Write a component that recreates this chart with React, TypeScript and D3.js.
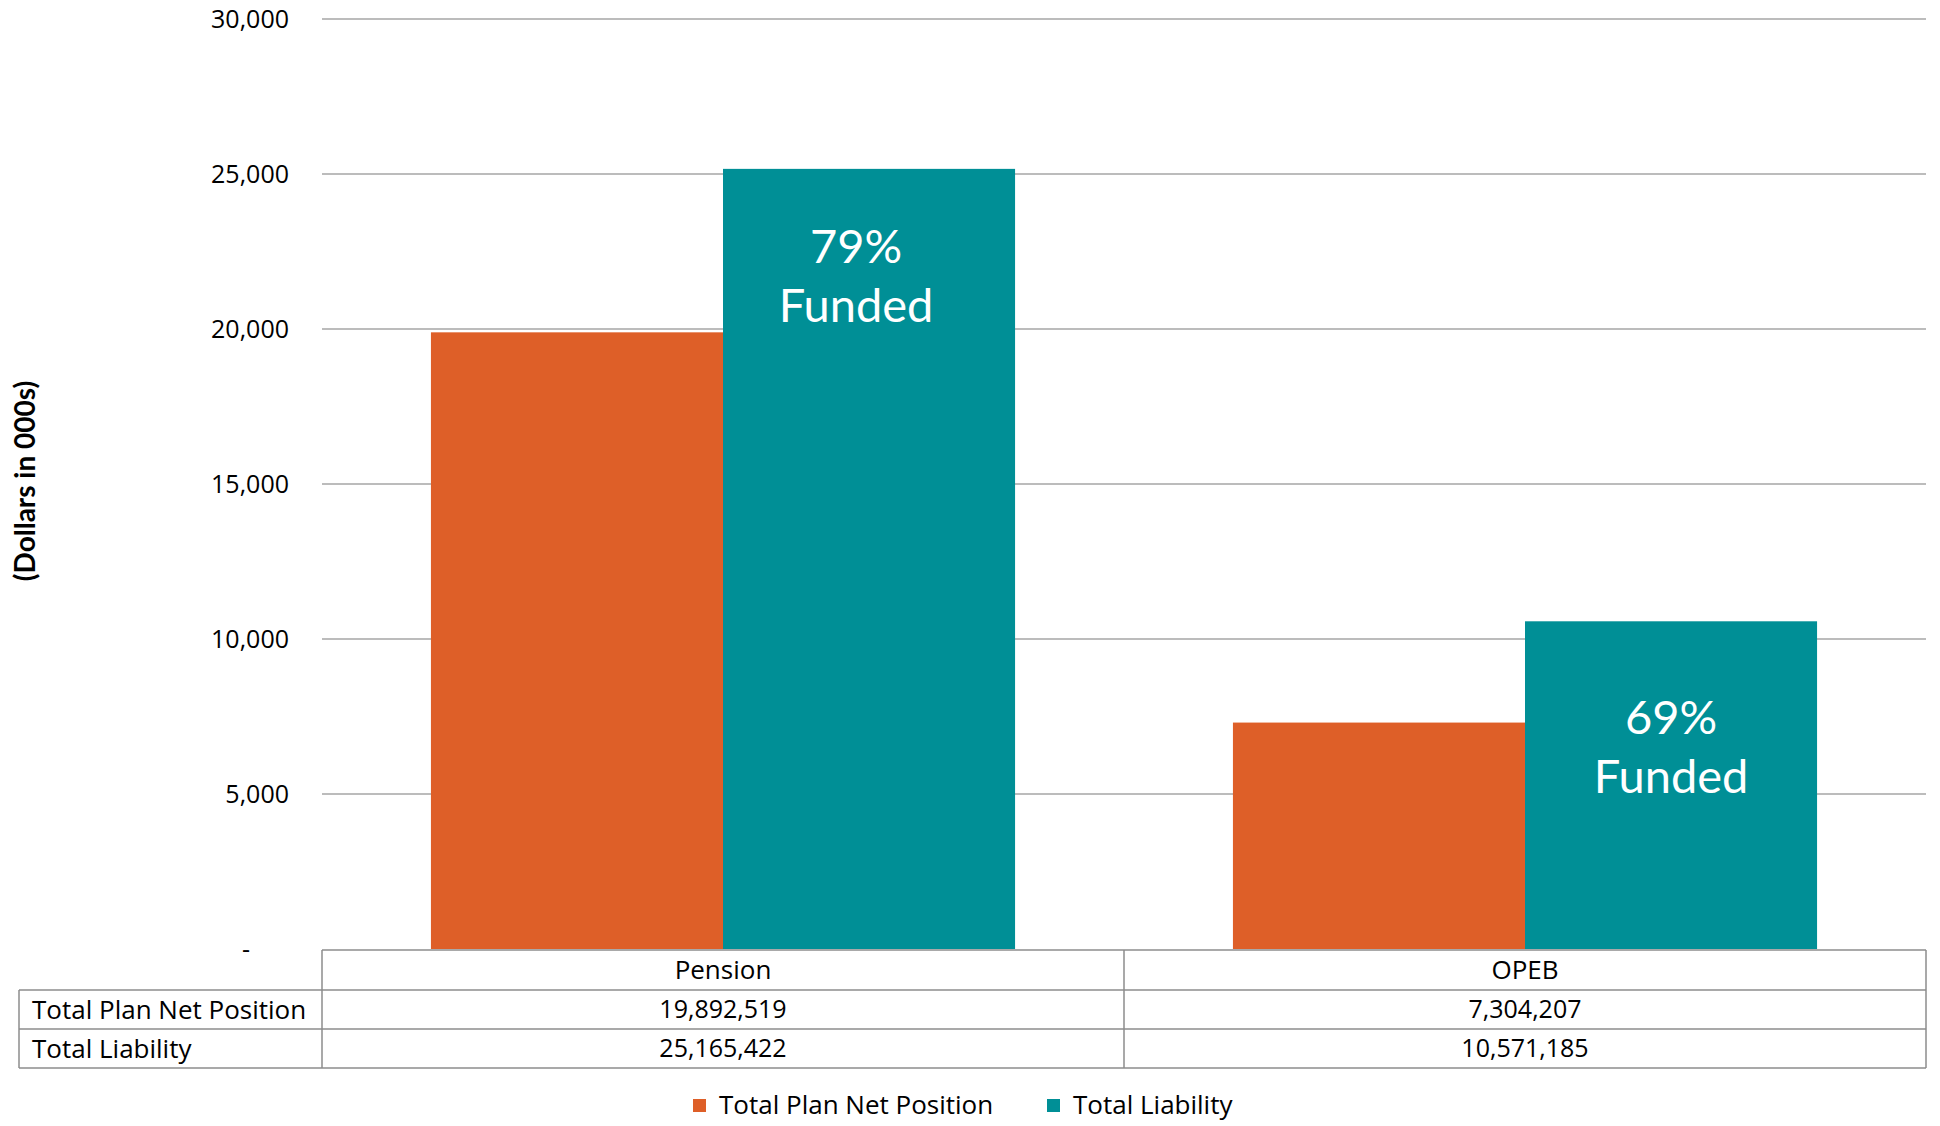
import { useEffect, useRef } from "react";
import * as d3 from "d3";

// data (Dollars in 000s)
const categories = ["Pension", "OPEB"];
const seriesNames = ["Total Plan Net Position", "Total Liability"];
const netPosition = [19892.519, 7304.207];
const totalLiability = [25165.422, 10571.185];
const tableNetPosition = ["19,892,519", "7,304,207"];
const tableLiability = ["25,165,422", "10,571,185"];
const yTicks = [0, 5000, 10000, 15000, 20000, 25000, 30000];

const W = 1940;
const H = 1126;
const COLORS = ["#DE5F28", "#008F96"];
const LABEL_FONT = "Lato, 'Open Sans', sans-serif";
const FONT = "'Open Sans', Lato, sans-serif";

export default function App() {
  const svgRef = useRef<SVGSVGElement>(null);

  useEffect(() => {
    if (!svgRef.current) return;
    const svg = d3.select(svgRef.current);
    svg.selectAll("*").remove();

    const left = 322;
    const right = 1926;
    const x = d3.scaleBand<string>().domain(categories).range([left, right]).padding(0);
    const xs = d3
      .scaleBand<string>()
      .domain(seriesNames)
      .range([0, x.bandwidth()])
      .paddingInner(0)
      .paddingOuter(0.373);
    const y = d3.scaleLinear().domain([0, 30000]).range([949, 19]);

    // gridlines
    svg
      .append("g")
      .selectAll("line")
      .data(yTicks.filter((t) => t > 0))
      .enter()
      .append("line")
      .attr("x1", left)
      .attr("x2", right)
      .attr("y1", (d) => y(d))
      .attr("y2", (d) => y(d))
      .attr("stroke", "#a6a6a6")
      .attr("stroke-width", 1.5);

    // tick labels
    svg
      .append("g")
      .selectAll("text")
      .data(yTicks)
      .enter()
      .append("text")
      .attr("x", (d) => (d === 0 ? 250 : 289))
      .attr("y", (d) => y(d))
      .attr("dy", "0.35em")
      .attr("text-anchor", "end")
      .attr("font-family", FONT)
      .attr("font-size", 25)
      .attr("fill", "#000")
      .text((d) => (d === 0 ? "-" : d3.format(",")(d)));

    // y axis title
    svg
      .append("text")
      .attr("transform", "translate(25,481) rotate(-90)")
      .attr("text-anchor", "middle")
      .attr("dy", "0.35em")
      .attr("font-family", LABEL_FONT)
      .attr("font-weight", 700)
      .attr("font-size", 28)
      .text("(Dollars in 000s)");

    // bars
    const rows = categories.map((c, i) => ({ cat: c, values: [netPosition[i], totalLiability[i]] }));
    const groups = svg
      .append("g")
      .selectAll("g")
      .data(rows)
      .enter()
      .append("g")
      .attr("transform", (d) => `translate(${x(d.cat)},0)`);

    groups
      .selectAll("rect")
      .data((d) => d.values.map((v, j) => ({ key: seriesNames[j], v, j })))
      .enter()
      .append("rect")
      .attr("x", (d) => xs(d.key)!)
      .attr("width", xs.bandwidth())
      .attr("y", (d) => y(d.v))
      .attr("height", (d) => y(0) - y(d.v))
      .attr("fill", (d) => COLORS[d.j]);

    // funded labels inside liability bars
    const labelDx = [-13, 0];
    const labelDy = [94, 113];
    groups.each(function (d, i) {
      const cx = xs(seriesNames[1])! + xs.bandwidth() / 2 + labelDx[i];
      const top = y(d.values[1]) + labelDy[i];
      const t = d3
        .select(this)
        .append("text")
        .attr("text-anchor", "middle")
        .attr("font-family", LABEL_FONT)
        .attr("font-size", 47)
        .attr("fill", "#fff");
      t.append("tspan").attr("x", cx).attr("y", top).text(d3.format(".0%")(d.values[0] / d.values[1]));
      t.append("tspan").attr("x", cx).attr("y", top + 59).text("Funded");
    });

    // data table
    const tTop = 950;
    const rowH = [40, 39, 39];
    const r1 = tTop + rowH[0];
    const r2 = r1 + rowH[1];
    const r3 = r2 + rowH[2];
    const tLeft = 19;
    const lineColor = "#8c8c8c";
    const table = svg.append("g").attr("stroke", lineColor).attr("stroke-width", 1.5);
    const hLines = [
      [left, right, tTop],
      [tLeft, right, r1],
      [tLeft, right, r2],
      [tLeft, right, r3],
    ];
    hLines.forEach(([a, b, yy]) => table.append("line").attr("x1", a).attr("x2", b).attr("y1", yy).attr("y2", yy));
    const vLines = [
      [tLeft, r1],
      [left, tTop],
      [x("OPEB")!, tTop],
      [right, tTop],
    ];
    vLines.forEach(([xx, y0]) => table.append("line").attr("x1", xx).attr("x2", xx).attr("y1", y0).attr("y2", r3));

    const cellText = svg.append("g").attr("font-family", FONT).attr("font-size", 25).attr("fill", "#000");
    categories.forEach((c, i) => {
      const cx = x(c)! + x.bandwidth() / 2;
      cellText.append("text").attr("x", cx).attr("y", (tTop + r1) / 2).attr("dy", "0.35em").attr("text-anchor", "middle").attr("font-size", 26).text(c);
      cellText.append("text").attr("x", cx).attr("y", (r1 + r2) / 2).attr("dy", "0.35em").attr("text-anchor", "middle").text(tableNetPosition[i]);
      cellText.append("text").attr("x", cx).attr("y", (r2 + r3) / 2).attr("dy", "0.35em").attr("text-anchor", "middle").text(tableLiability[i]);
    });
    cellText.append("text").attr("x", 32).attr("y", (r1 + r2) / 2).attr("dy", "0.35em").attr("font-size", 26).text(seriesNames[0]);
    cellText.append("text").attr("x", 32).attr("y", (r2 + r3) / 2).attr("dy", "0.35em").attr("font-size", 26).text(seriesNames[1]);

    // legend
    const legendX = [693, 1047];
    const legend = svg
      .append("g")
      .selectAll("g")
      .data(seriesNames)
      .enter()
      .append("g")
      .attr("transform", (_d, i) => `translate(${legendX[i]},1105)`);
    legend
      .append("rect")
      .attr("x", 0)
      .attr("y", -6)
      .attr("width", 13)
      .attr("height", 13)
      .attr("fill", (_d, i) => COLORS[i]);
    legend
      .append("text")
      .attr("x", 26)
      .attr("y", 0)
      .attr("dy", "0.35em")
      .attr("font-family", FONT)
      .attr("font-size", 26)
      .text((d) => d);
  }, []);

  return (
    <div style={{ position: "absolute", left: 0, top: 0, width: W, height: H, background: "#fff" }}>
      <svg ref={svgRef} width={W} height={H} style={{ display: "block" }} />
    </div>
  );
}
